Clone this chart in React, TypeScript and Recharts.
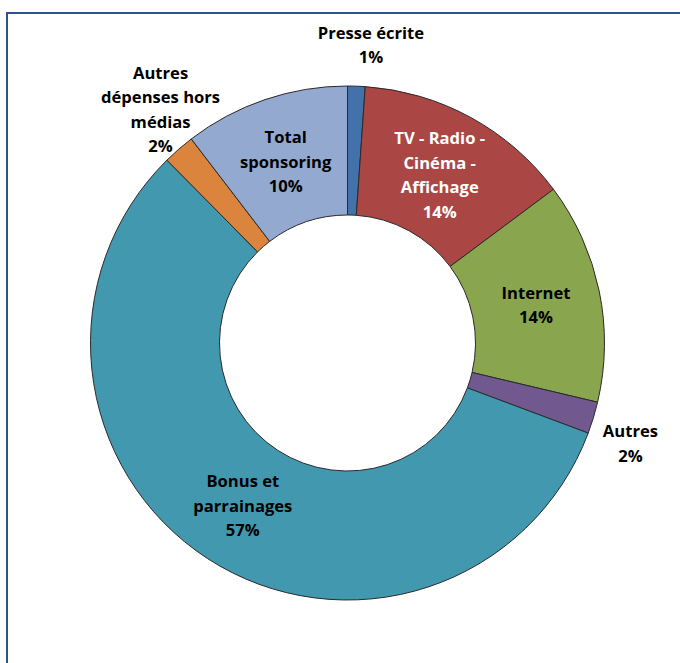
import React from 'react'
import { PieChart, Pie, Cell } from 'recharts'

const categories = [
  'Presse écrite',
  'TV - Radio - Cinéma - Affichage',
  'Internet',
  'Autres',
  'Bonus et parrainages',
  'Autres dépenses hors médias',
  'Total sponsoring',
]
const shares = [1.1, 13.7, 13.9, 2.0, 56.9, 2.0, 10.4]
const labelLines = [
  ['Presse écrite'],
  ['TV - Radio -', 'Cinéma -', 'Affichage'],
  ['Internet'],
  ['Autres'],
  ['Bonus et', 'parrainages'],
  ['Autres', 'dépenses hors', 'médias'],
  ['Total', 'sponsoring'],
]
const colors = ['#4372AA', '#AA4644', '#89A54E', '#71588F', '#4198AF', '#DB843D', '#93A9CF']
const textColors = ['#000', '#fff', '#000', '#000', '#000', '#000', '#000']

const data = categories.map((name, i) => ({ name, value: shares[i] }))

const RAD = Math.PI / 180
const LINE_H = 24.5

function renderLabel(props: any) {
  const { cx, cy, midAngle, innerRadius, outerRadius, index, value } = props
  const outside = value < 5
  const r = outside ? outerRadius + 43 : (innerRadius + outerRadius) / 2
  // Excel nudges the small outer labels a little clockwise
  const a = outside ? midAngle - 2.5 : midAngle
  const x = cx + r * Math.cos(-a * RAD)
  const y = cy + r * Math.sin(-a * RAD)
  const lines = [...labelLines[index], `${Math.round(value)}%`]
  const top = y - ((lines.length - 1) * LINE_H) / 2
  return (
    <text
      key={`lbl-${index}`}
      x={x}
      y={top}
      textAnchor="middle"
      dominantBaseline="central"
      fill={textColors[index]}
      style={{ fontFamily: '"Open Sans", sans-serif', fontWeight: 700, fontSize: 16.6 }}
    >
      {lines.map((l, j) => (
        <tspan key={j} x={x} y={top + j * LINE_H}>
          {l}
        </tspan>
      ))}
    </text>
  )
}

export default function App() {
  return (
    <div style={{ position: 'absolute', left: 0, top: 0, width: 680, height: 663, background: '#fff' }}>
      <div
        style={{
          position: 'absolute',
          left: 6,
          top: 12,
          width: 700,
          height: 700,
          borderLeft: '2px solid #2C5290',
          borderTop: '2px solid #2C5290',
        }}
      />
      <div style={{ position: 'absolute', left: 0, top: 0 }}>
        <PieChart width={680} height={663} margin={{ top: 0, right: 0, bottom: 0, left: 0 }}>
          <Pie
            data={data}
            dataKey="value"
            nameKey="name"
            cx={347.5}
            cy={343}
            innerRadius={128}
            outerRadius={257}
            startAngle={90}
            endAngle={-270}
            stroke="#2a2a2a"
            strokeWidth={1}
            label={renderLabel}
            labelLine={false}
            isAnimationActive={false}
          >
            {data.map((d, i) => (
              <Cell key={d.name} fill={colors[i]} />
            ))}
          </Pie>
        </PieChart>
      </div>
    </div>
  )
}
